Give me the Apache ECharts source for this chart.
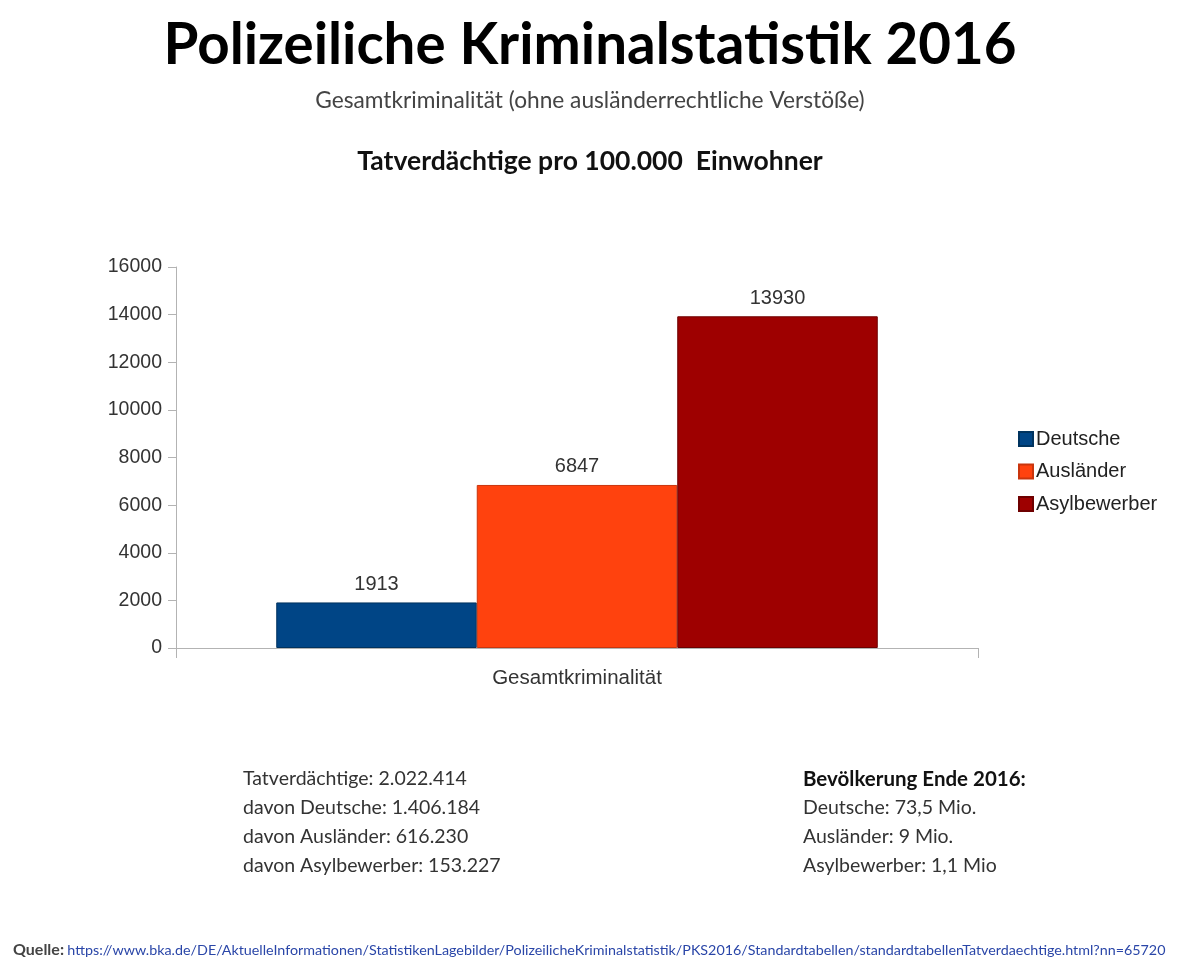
<!DOCTYPE html>
<html>
<head>
<meta charset="UTF-8">
<title>Polizeiliche Kriminalstatistik 2016</title>
<script src="https://cdn.jsdelivr.net/npm/echarts@6/dist/echarts.min.js"></script>
<style>
  html, body { margin: 0; padding: 0; background: #fff; }
  #main { width: 1200px; height: 969px; }
</style>
</head>
<body>
<div id="main"></div>
<script>
// data
var categories = ['Gesamtkriminalität'];
var seriesNames = ['Deutsche', 'Ausländer', 'Asylbewerber'];
var seriesValues = [[1913], [6847], [13930]];
var seriesColors = ['#004586', '#ff420e', '#9e0000'];
var borderColors = ['#00335f', '#c9350d', '#6e0000'];

var mainTitle = 'Polizeiliche Kriminalstatistik 2016';
var subTitle = 'Gesamtkriminalität (ohne ausländerrechtliche Verstöße)';
var chartTitle = 'Tatverdächtige pro 100.000  Einwohner';

var leftLines = [
    'Tatverdächtige: 2.022.414',
    'davon Deutsche: 1.406.184',
    'davon Ausländer: 616.230',
    'davon Asylbewerber: 153.227'
];
var rightHead = 'Bevölkerung Ende 2016:';
var rightLines = ['Deutsche: 73,5 Mio.', 'Ausländer: 9 Mio.', 'Asylbewerber: 1,1 Mio'];
var sourceUrl = 'https://www.bka.de/DE/AktuelleInformationen/StatistikenLagebilder/PolizeilicheKriminalstatistik/PKS2016/Standardtabellen/standardtabellenTatverdaechtige.html?nn=65720';

var textFont = 'Lato, "Open Sans", sans-serif';
var chartFont = '"Liberation Sans", Arial, sans-serif';

var chart = echarts.init(document.getElementById('main'));

var series = seriesNames.map(function(name, i) {
    return {
        name: name,
        type: 'bar',
        data: seriesValues[i],
        barGap: '0%',
        barCategoryGap: '25%',
        itemStyle: { color: seriesColors[i], borderColor: borderColors[i], borderWidth: 1 },
        label: {
            show: true,
            position: 'top',
            distance: 8,
            color: '#333',
            fontFamily: chartFont,
            fontSize: 20
        }
    };
});

var graphics = [
    {
        type: 'text', x: 590, y: 46,
        style: { text: mainTitle, fill: '#000', font: 'bold 56.5px ' + textFont, align: 'center', verticalAlign: 'middle' }
    },
    {
        type: 'text', x: 590, y: 101,
        style: { text: subTitle, fill: '#444', font: '22.7px ' + textFont, align: 'center', verticalAlign: 'middle' }
    },
    {
        type: 'text', x: 590, y: 161,
        style: { text: chartTitle, fill: '#111', font: 'bold 26.5px ' + textFont, align: 'center', verticalAlign: 'middle' }
    }
];
leftLines.forEach(function(t, i) {
    graphics.push({
        type: 'text', left: 243, top: 769 + i * 29,
        style: { text: t, fill: '#333', font: '19.5px ' + textFont }
    });
});
graphics.push({
    type: 'text', left: 803, top: 769,
    style: { text: rightHead, fill: '#111', font: 'bold 20.5px ' + textFont }
});
rightLines.forEach(function(t, i) {
    graphics.push({
        type: 'text', left: 803, top: 798 + i * 29,
        style: { text: t, fill: '#333', font: '19.5px ' + textFont }
    });
});
graphics.push({
    type: 'text', left: 13, top: 942,
    style: {
        text: '{q|Quelle:} {u|' + sourceUrl + '}',
        rich: {
            q: { fill: '#444', font: 'bold 16px ' + textFont },
            u: { fill: '#2a46a8', font: '14.3px ' + textFont }
        }
    }
});

var option = {
    backgroundColor: '#fff',
    animation: false,
    legend: {
        orient: 'vertical',
        left: 1013, top: 424,
        itemWidth: 14, itemHeight: 14, itemGap: 12.5,
        icon: 'rect',
        textStyle: { fontFamily: chartFont, fontSize: 20, color: '#222', padding: [0, 0, 0, -2] },
        data: seriesNames
    },
    grid: { left: 176, right: 222, top: 267, bottom: 321, containLabel: false },
    xAxis: {
        type: 'category',
        data: categories,
        axisLine: { lineStyle: { color: '#b3b3b3', width: 1 } },
        axisTick: { show: true, length: 10, alignWithLabel: false, lineStyle: { color: '#b3b3b3' } },
        axisLabel: { color: '#333', fontFamily: chartFont, fontSize: 20.5, margin: 20 }
    },
    yAxis: {
        type: 'value',
        min: 0, max: 16000, interval: 2000,
        axisLine: { show: true, lineStyle: { color: '#b3b3b3', width: 1 } },
        axisTick: { show: true, length: 8, lineStyle: { color: '#b3b3b3' } },
        axisLabel: {
            color: '#333', fontFamily: chartFont, fontSize: 19.5, margin: 14,
            formatter: function(v) { return String(v); }
        },
        splitLine: { show: false }
    },
    series: series,
    graphic: graphics
};

chart.setOption(option);
</script>
</body>
</html>
